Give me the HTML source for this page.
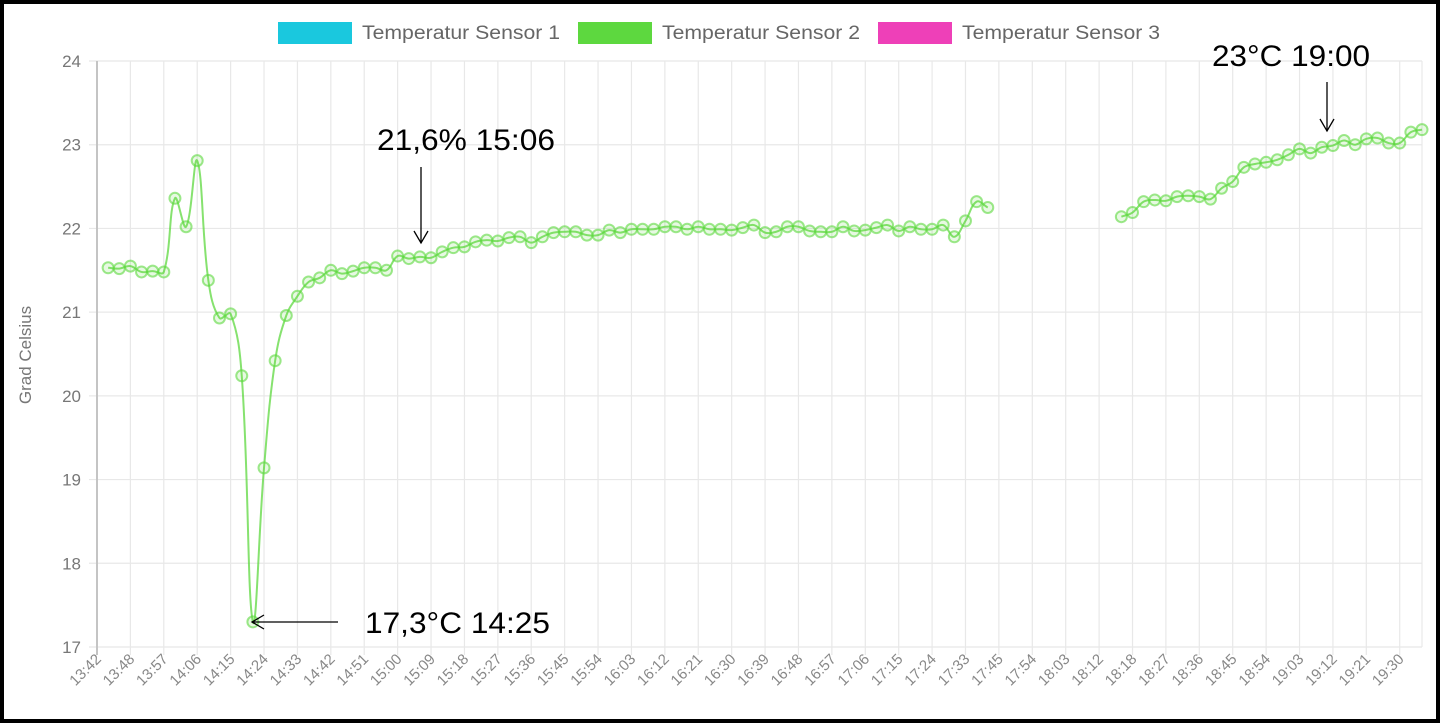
<!DOCTYPE html>
<html><head><meta charset="utf-8"><style>
html,body{margin:0;padding:0;background:#fff;}
body{width:1440px;height:723px;overflow:hidden;}
svg{display:block;}
</style></head><body>
<svg id="chart" width="1440" height="723" xmlns="http://www.w3.org/2000/svg" font-family="'Liberation Sans', Arial, sans-serif">
<rect x="2" y="2" width="1436" height="719" fill="#fff" stroke="#000" stroke-width="4"/>
<g id="grid"></g>
<g id="axes"></g>
<g id="series"></g>
<g font-size="19" fill="#666">
  <g><rect x="278" y="22" width="74" height="22" fill="#1ac8de"/><text x="362" y="39" textLength="198" lengthAdjust="spacingAndGlyphs">Temperatur Sensor 1</text></g>
  <g><rect x="578" y="22" width="74" height="22" fill="#5dd83f"/><text x="662" y="39" textLength="198" lengthAdjust="spacingAndGlyphs">Temperatur Sensor 2</text></g>
  <g><rect x="878" y="22" width="74" height="22" fill="#ee40b8"/><text x="962" y="39" textLength="198" lengthAdjust="spacingAndGlyphs">Temperatur Sensor 3</text></g>
</g>
<text transform="translate(31,355) rotate(-90)" text-anchor="middle" font-size="17" fill="#777">Grad Celsius</text>
<g fill="#000" font-size="30">
  <text x="377" y="150" textLength="178" lengthAdjust="spacingAndGlyphs">21,6% 15:06</text>
  <line x1="421" y1="167" x2="421" y2="243" stroke="#000" stroke-width="1.3"/>
  <polyline points="414,231 421,243 428,231" fill="none" stroke="#000" stroke-width="1.3"/>
  <text x="365" y="633" textLength="185" lengthAdjust="spacingAndGlyphs">17,3°C 14:25</text>
  <line x1="338" y1="622" x2="252" y2="622" stroke="#000" stroke-width="1.3"/>
  <polyline points="264,615 252,622 264,629" fill="none" stroke="#000" stroke-width="1.3"/>
  <text x="1212" y="66" textLength="158" lengthAdjust="spacingAndGlyphs">23°C 19:00</text>
  <line x1="1327" y1="82" x2="1327" y2="131" stroke="#000" stroke-width="1.3"/>
  <polyline points="1320,119 1327,131 1334,119" fill="none" stroke="#000" stroke-width="1.3"/>
</g>
</svg>
<script>
const tickLabels = ["13:42","13:48","13:57","14:06","14:15","14:24","14:33","14:42","14:51","15:00","15:09","15:18","15:27","15:36","15:45","15:54","16:03","16:12","16:21","16:30","16:39","16:48","16:57","17:06","17:15","17:24","17:33","17:45","17:54","18:03","18:12","18:18","18:27","18:36","18:45","18:54","19:03","19:12","19:21","19:30"];
const yTicks = [17,18,19,20,21,22,23,24];
const sensor2 = [null,21.53,21.52,21.55,21.48,21.49,21.48,22.36,22.02,22.81,21.38,20.93,20.98,20.24,17.30,19.14,20.42,20.96,21.19,21.36,21.41,21.50,21.46,21.49,21.53,21.53,21.50,21.67,21.64,21.66,21.65,21.72,21.77,21.78,21.84,21.86,21.85,21.89,21.90,21.83,21.90,21.95,21.96,21.96,21.92,21.92,21.98,21.95,21.99,21.99,21.99,22.02,22.02,21.99,22.02,21.99,21.99,21.98,22.01,22.04,21.95,21.96,22.02,22.02,21.97,21.96,21.96,22.02,21.97,21.98,22.01,22.04,21.97,22.02,21.99,21.99,22.04,21.90,22.09,22.32,22.25,null,null,null,null,null,null,null,null,null,null,null,22.14,22.19,22.32,22.34,22.33,22.38,22.39,22.38,22.35,22.48,22.56,22.73,22.77,22.79,22.82,22.88,22.95,22.90,22.97,22.99,23.05,23.00,23.07,23.08,23.02,23.02,23.15,23.18];

const NS="http://www.w3.org/2000/svg";
const L=97,R=1422,T=61,B=647,yMin=17,yMax=24;
const n=sensor2.length;
const step=(R-L)/(n-1);
function xPos(i){return L+i*step;}
function yPos(v){return B-(v-yMin)/(yMax-yMin)*(B-T);}
function mk(tag,attrs,parent){const e=document.createElementNS(NS,tag);for(const k in attrs)e.setAttribute(k,attrs[k]);parent.appendChild(e);return e;}
const grid=document.getElementById('grid'),axes=document.getElementById('axes'),series=document.getElementById('series');

yTicks.forEach(t=>{
  const y=yPos(t);
  const gl=mk('line',{x1:L-8,x2:R,y1:y,y2:y,stroke:'#e8e8e8','stroke-width':1.2},grid);
  
  
  const tx=mk('text',{x:L-16,y:y+6,'text-anchor':'end','font-size':17,fill:'#777'},axes);
  tx.textContent=t;
  
  
});
tickLabels.forEach((lab,k)=>{
  const x=xPos(k*3);
  const gl=mk('line',{x1:x,x2:x,y1:T,y2:B+8,stroke:k===0?'#c4c4c4':'#e8e8e8','stroke-width':k===0?2:1.2},grid);
  
  
  const tx=mk('text',{transform:`translate(${x+5},${B+13}) rotate(-45)`,'text-anchor':'end','font-size':15,fill:'#888'},axes);
  tx.textContent=lab;
  
  
});
const rl=mk('line',{x1:R,x2:R,y1:T,y2:B,stroke:'#e8e8e8','stroke-width':1.2},grid);



let segs=[],cur=[];
sensor2.forEach((v,i)=>{if(v===null){if(cur.length)segs.push(cur);cur=[];}else cur.push({x:xPos(i),y:yPos(v)});});
if(cur.length)segs.push(cur);
const tension=0.4;
segs.forEach(pts=>{
  let d=`M${pts[0].x},${pts[0].y}`;
  const cps=pts.map((p,i)=>{
    const a=pts[Math.max(0,i-1)],c=pts[Math.min(pts.length-1,i+1)];
    const d01=Math.hypot(p.x-a.x,p.y-a.y),d12=Math.hypot(c.x-p.x,c.y-p.y);
    let fa=d01/(d01+d12||1),fb=d12/(d01+d12||1);
    fa=tension*fa;fb=tension*fb;
    return {px:p.x-fa*(c.x-a.x),py:p.y-fa*(c.y-a.y),nx:p.x+fb*(c.x-a.x),ny:p.y+fb*(c.y-a.y)};
  });
  for(let i=1;i<pts.length;i++){d+=` C${cps[i-1].nx},${cps[i-1].ny} ${cps[i].px},${cps[i].py} ${pts[i].x},${pts[i].y}`;}
  const p=mk('path',{d:d,fill:'none',stroke:'rgba(93,216,63,0.75)','stroke-width':2},series);
  
  
});
sensor2.forEach((v,i)=>{
  if(v===null)return;
  const c=mk('circle',{cx:xPos(i),cy:yPos(v),r:5.5,fill:'rgba(93,216,63,0.15)',stroke:'rgba(93,216,63,0.6)','stroke-width':2},series);
  
  
});
</script>
</body></html>
